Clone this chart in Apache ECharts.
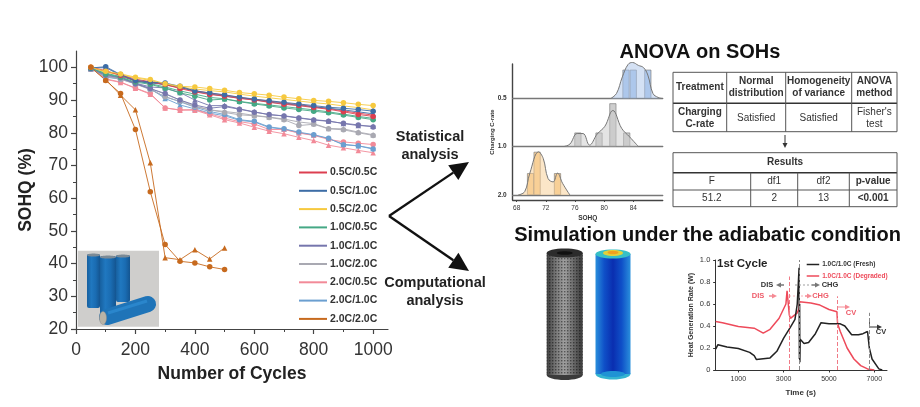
<!DOCTYPE html>
<html>
<head>
<meta charset="utf-8">
<style>html,body{margin:0;padding:0;background:#fff}#chart{width:920px;height:407px}</style>
<script src="https://cdn.jsdelivr.net/npm/echarts@6/dist/echarts.min.js"></script>
</head>
<body>
<div id="chart"></div>
<script>
var FONT = '"Liberation Sans", Arial, sans-serif';

// main SOHQ plot
var cycles = [50,100,150,200,250,300,350,400,450,500,550,600,650,700,750,800,850,900,950,1000];
var conditions = ['0.5C/0.5C','0.5C/1.0C','0.5C/2.0C','1.0C/0.5C','1.0C/1.0C','1.0C/2.0C','2.0C/0.5C','2.0C/1.0C','2.0C/2.0C'];
var colors = ['#dc3f50','#3d6da6','#f6c93f','#45a885','#7676ad','#a9a9b2','#f28a98','#6b9fd0','#c76a1e'];
var s05_05a = [100,99,97.5,96,95.5,94.8,93.5,92.5,91.7,91.2,90.5,90,89.3,88.7,88.3,87.7,87.2,86.4,85.6,85];
var s05_05b = [100,98.7,97.8,96.4,95.6,94.6,93.8,92.9,92.1,91.5,90.8,90.2,89.7,89.1,88.6,88,87.4,86.7,86,85.4];
var s05_10a = [99.8,100.2,97.8,96,95.5,95.2,94.2,92.8,92.2,91.6,90.9,90.3,89.8,89.3,88.8,88.3,87.8,87.5,87.1,86.6];
var s05_10b = [99.8,99.9,97.6,95.8,95.2,94.8,93.9,92.6,91.9,91.2,90.6,90.1,89.4,88.9,88.4,87.9,87.5,87,86.4,85.8];
var s05_20a = [100,98.8,98,97,96.3,95,94.2,94,93.5,93,92.3,91.9,91.5,90.9,90.4,89.9,89.6,89.2,88.7,88.3];
var s05_20b = [100,98.5,97.7,96.8,96,94.9,94,93.4,92.9,92.5,91.8,91.2,90.7,90.2,89.7,89.2,88.8,88.2,87.7,87];
var s10_05a = [99.7,98,97,95.5,94.8,93.6,92.2,91.2,90,90.3,89.5,88.8,88.2,87.6,87.1,86.6,86.1,85.4,84.7,84];
var s10_05b = [99.8,98.2,97.2,95.9,95,94,92.8,91.8,90.8,90.4,89.6,89,88.5,88,87.5,87,86.4,85.7,85,84.4];
var s10_10a = [99.6,97.6,96.8,95,93.5,92,90,88.5,87.5,88,87.2,86.3,85.6,85.1,84.5,83.9,83.5,82.9,82.4,81.8];
var s10_10b = [99.6,97.8,96.9,95.2,94,93.7,92.3,90,88.3,88.3,87.3,86.4,85.5,85.2,84.6,84,83.6,82.8,82.2,82];
var s10_20a = [99.6,97.2,96.4,94.9,93.2,91,89.6,88,87,86.2,85.5,85.2,84.7,84,82.2,82.6,81.2,80.9,80,79.2];
var s10_20b = [99.5,97.4,96.6,95,93.5,91.8,90,88.2,87,86.5,86,85.3,84.8,84.2,83.3,82.8,81.3,81.2,80.2,79.4];
var s20_05a = [99.8,96.5,95.5,93.7,92,87.6,87,87.1,85.8,84.5,83.4,82.7,81,81,79.9,79.2,78,77.2,76.8,76.4];
var s20_05b = [99.9,96.3,95.4,93.6,91.8,87.6,86.9,86.9,85.5,84,83,81.7,80.5,79.7,78.6,77.6,76.2,75.4,74.6,73.9];
var s20_10a = [99.7,97,96.4,95,93.3,91,89.5,87.8,86.5,85.6,84,83.5,81.8,81.2,80.2,79.4,78.3,76.3,76,75];
var s20_10b = [99.7,97.2,96.6,95.1,93.5,90.5,88.5,87.3,86,85.2,83.8,83.3,81.6,81.1,80,79.3,78.2,76.5,76,75.2];
var s20_20a = [100,96,92,81,62,45.8,40.7,40.2,39,38.2];
var s20_20b = [100,96.3,91.5,87,70.8,41.8,41.2,44.2,41.4,44.8];
var groupA = [s05_05a,s05_10a,s05_20a,s10_05a,s10_10a,s10_20a,s20_05a,s20_10a,s20_20a];
var groupB = [s05_05b,s05_10b,s05_20b,s10_05b,s10_10b,s10_20b,s20_05b,s20_10b,s20_20b];
// drawn back to front
var drawOrder = [6,7,5,4,3,0,1,2,8];
var xTicks = [0,200,400,600,800,1000];
var xMinor = [100,300,500,700,900];
var yTicks = [20,30,40,50,60,70,80,90,100];
var yMinor = [25,35,45,55,65,75,85,95];

// ridge plot
var ridgeNames = ['0.5','1.0','2.0'];
var ridgeColors = ['#a9c4ea','#c9c9c9','#f8cd92'];
var ridgeCurveX = [
  [80.9,81.7,82.5,83.3,83.9,84.7,85.4,86,86.7,87.4,87.95],
  [74.5,75.3,76.3,77.1,78,79.05,80.1,81.2,82.4,83.5,84.7],
  [68.2,69.1,69.8,71,71.65,72.3,73,73.6,74.3,75.3]
];
var ridgeCurveY = [
  [0,0.14,0.6,0.95,1,0.92,0.86,0.65,0.14,0.03,0],
  [0,0.05,0.27,0.27,0.03,0.26,0.42,0.75,0.38,0.2,0],
  [0,0.07,0.45,0.89,0.75,0.34,0.27,0.45,0.24,0]
];
var ridgeBarX = [
  [83,84,86],
  [76.4,79.3,81.2,83.1],
  [69.9,70.8,73.6]
];
var ridgeBarY = [
  [0.8,0.8,0.8],
  [0.29,0.29,0.9,0.29],
  [0.45,0.89,0.45]
];
var ridgeTicks = [68,72,76,80,84];

// heat generation, 1st cycle
var heatNames = ['1.0C/1.0C (Fresh)','1.0C/1.0C (Degraded)'];
var freshT = [0,100,500,1000,1500,1700,1800,2000,2400,2700,3000,3300,3500,3600,3650,3680,3695,3705,3715,3730,3800,3900,4100,4400,4650,5000,5500,5700,6000,6300,6500,6700,6780,6900,7200,7350];
var freshQ = [0.19,0.23,0.21,0.195,0.16,0.13,0.095,0.1,0.11,0.17,0.29,0.39,0.46,0.6,0.8,0.93,0.1,0.6,0.07,0.28,0.28,0.24,0.25,0.33,0.43,0.42,0.42,0.4,0.32,0.32,0.33,0.35,0.2,0.1,0.01,0];
var degradedT = [0,300,1000,1700,1800,2100,2400,2800,3100,3150,3200,3250,3300,3600,3680,3700,4200,4600,5000,5350,5380,5500,5800,6100,6400,6700,7000];
var degradedQ = [0.44,0.43,0.395,0.38,0.37,0.335,0.37,0.47,0.6,0.72,0.72,0.5,0.47,0.52,0.56,0.62,0.61,0.59,0.55,0.53,0.42,0.35,0.2,0.1,0.04,0.01,0];
var heatTicks = [1000,3000,5000,7000];
var redDash = [[3250,0.85],[5370,0.67]];
var blackDash = [[3690,1],[6780,0.52]];

// tables
var table1Head = ['Treatment','Normal\ndistribution','Homogeneity\nof variance','ANOVA\nmethod'];
var table1Row = ['Charging\nC-rate','Satisfied','Satisfied',"Fisher's\ntest"];
var table2Title = 'Results';
var table2Head = ['F','df1','df2','p-value'];
var table2Row = ['51.2','2','13','<0.001'];

function zip(xs, ys) {
  return ys.map(function (y, i) { return [xs[i], y]; });
}

function plain(v) { return String(v); }

function textEl(str, x, y, size, bold, color, align, rotation) {
  var el = {
    type: 'text',
    style: {
      text: str, x: 0, y: 0, fill: color || '#333',
      font: (bold ? 'bold ' : '') + size + 'px ' + FONT,
      textAlign: align || 'center', textVerticalAlign: 'middle', lineHeight: size * 1.22
    },
    x: x, y: y
  };
  if (rotation) el.rotation = rotation;
  return el;
}

function lineEl(x1, y1, x2, y2, color, width, dash) {
  return {
    type: 'line', shape: { x1: x1, y1: y1, x2: x2, y2: y2 },
    style: { stroke: color, lineWidth: width, lineDash: dash || null }
  };
}

function arrowEl(x1, y1, x2, y2, color, width, len, half) {
  var a = Math.atan2(y2 - y1, x2 - x1);
  var bx = x2 - len * Math.cos(a), by = y2 - len * Math.sin(a);
  return [
    lineEl(x1, y1, bx, by, color, width),
    { type: 'polygon', shape: { points: [
      [x2, y2],
      [bx - half * Math.sin(a), by + half * Math.cos(a)],
      [bx + half * Math.sin(a), by - half * Math.cos(a)]
    ] }, style: { fill: color } }
  ];
}

function hGrad(stops) {
  return new echarts.graphic.LinearGradient(0, 0, 1, 0, stops.map(function (c, i) {
    return { offset: i / (stops.length - 1), color: c };
  }));
}

function tableEls() {
  var els = [], c = '#555';
  var L = 673, R = 897, v1 = [726.7, 785.7, 851.7], v2 = [750.7, 797.7, 849.3];
  [72.3, 103.3, 131.7].forEach(function (y, i) { els.push(lineEl(L, y, R, y, i === 1 ? '#333' : c, i === 1 ? 1.4 : 1)); });
  [L].concat(v1, R).forEach(function (x) { els.push(lineEl(x, 72.3, x, 131.7, c, 1)); });
  var cols1 = [L].concat(v1, R);
  table1Head.forEach(function (t, i) {
    els.push(textEl(t, (cols1[i] + cols1[i + 1]) / 2, 87.5, 10, true));
    els.push(textEl(table1Row[i], (cols1[i] + cols1[i + 1]) / 2, 118, 10, i === 0));
  });
  [152.7, 172.7, 190, 206.7].forEach(function (y, i) { els.push(lineEl(L, y, R, y, i === 1 ? '#333' : c, i === 1 ? 1.4 : 1)); });
  els.push(lineEl(L, 152.7, L, 206.7, c, 1), lineEl(R, 152.7, R, 206.7, c, 1));
  v2.forEach(function (x) { els.push(lineEl(x, 172.7, x, 206.7, c, 1)); });
  els.push(textEl(table2Title, 785, 162.5, 10, true));
  var cols2 = [L].concat(v2, R);
  table2Head.forEach(function (t, i) {
    els.push(textEl(t, (cols2[i] + cols2[i + 1]) / 2, 181.5, 10, i === 3));
    els.push(textEl(table2Row[i], (cols2[i] + cols2[i + 1]) / 2, 198.5, 10, i === 3));
  });
  return els.concat(arrowEl(785, 135, 785, 148, '#333', 1, 5, 2.5));
}

function photoEls() {
  var blue = hGrad(['#17609f', '#2078c0', '#1a6cb2', '#145591']);
  var els = [{ type: 'rect', shape: { x: 78, y: 250.7, width: 81, height: 76 }, style: { fill: '#cfcecc' } }];
  [[87, 254, 13, 54], [116, 255, 14, 47], [100, 256, 16, 64]].forEach(function (b) {
    els.push({ type: 'rect', shape: { x: b[0], y: b[1], width: b[2], height: b[3], r: 2 }, style: { fill: blue } });
    els.push({ type: 'ellipse', shape: { cx: b[0] + b[2] / 2, cy: b[1] + 1, rx: b[2] / 2, ry: 1.6 }, style: { fill: '#7c8a95' } });
  });
  els.push({ type: 'line', shape: { x1: 107, y1: 317, x2: 148, y2: 304 }, style: { stroke: '#1f74b8', lineWidth: 16, lineCap: 'round' } });
  els.push({ type: 'line', shape: { x1: 108, y1: 313, x2: 147, y2: 301 }, style: { stroke: '#2a86cc', lineWidth: 3 } });
  els.push({ type: 'ellipse', shape: { cx: 103, cy: 318, rx: 3.5, ry: 6.5 }, style: { fill: '#b9b3a6', stroke: '#888', lineWidth: 0.5 } });
  return els;
}

function cylinderEls() {
  var meshCanvas = document.createElement('canvas');
  meshCanvas.width = 3; meshCanvas.height = 3;
  var ctx = meshCanvas.getContext('2d');
  ctx.fillStyle = 'rgba(0,0,0,0.45)';
  ctx.fillRect(0, 0, 1.4, 1.4);
  var els = [
    { type: 'ellipse', shape: { cx: 564.7, cy: 375, rx: 18, ry: 5 }, style: { fill: '#3b3b3b' } },
    { type: 'rect', shape: { x: 546.7, y: 253, width: 36, height: 122 }, style: { fill: hGrad(['#3f3f3f', '#777', '#a0a0a0', '#6a6a6a', '#3a3a3a']) } },
    { type: 'rect', shape: { x: 546.7, y: 253, width: 36, height: 122 }, style: { fill: { image: meshCanvas, repeat: 'repeat' } } },
    { type: 'ellipse', shape: { cx: 564.7, cy: 253, rx: 18, ry: 4.5 }, style: { fill: '#2c2c2c' } },
    { type: 'ellipse', shape: { cx: 564.7, cy: 253, rx: 8, ry: 1.8 }, style: { fill: '#111' } },

    { type: 'ellipse', shape: { cx: 613, cy: 374, rx: 17.5, ry: 5.5 }, style: { fill: '#35b4d0' } },
    { type: 'rect', shape: { x: 595.5, y: 254, width: 35, height: 120 }, style: { fill: hGrad(['#2a8fdc', '#0f50c8', '#0a2eb0', '#0f50c8', '#2a8fdc']) } },
    { type: 'ellipse', shape: { cx: 613, cy: 374, rx: 12, ry: 3 }, style: { fill: '#1f93d4' } },
    { type: 'ellipse', shape: { cx: 613, cy: 254, rx: 17.5, ry: 4.5 }, style: { fill: '#37c0c6' } },
    { type: 'ellipse', shape: { cx: 613, cy: 253, rx: 10, ry: 3 }, style: { fill: '#e2d23a' } },
    { type: 'ellipse', shape: { cx: 613, cy: 252.5, rx: 5.5, ry: 1.8 }, style: { fill: '#f0a020' } }
  ];
  return els;
}

function heatNotes() {
  var k = '#333', r = '#ee5a68';
  var els = [
    textEl('1st Cycle', 717, 264, 11.5, true, '#222', 'left'),
    textEl('DIS', 767, 285, 7.5, true, k),
    textEl('CHG', 830, 285, 7.5, true, k),
    textEl('DIS', 758, 296, 7.5, true, r),
    textEl('CHG', 820.5, 296, 7.5, true, r),
    textEl('CV', 851, 312.5, 7.5, true, r),
    textEl('CV', 881, 332, 7.5, true, k),
    lineEl(795, 285, 812, 285, '#888', 0.8, [2, 2]),
    lineEl(789, 296, 805, 296, '#f5a0a8', 0.8, [2, 2]),
    lineEl(869.5, 322, 869.5, 327, k, 0.8)
  ];
  return els.concat(
    arrowEl(784, 285, 776, 285, '#777', 1.5, 5, 2.5),
    arrowEl(812, 285, 820, 285, '#777', 1.5, 5, 2.5),
    arrowEl(769, 296, 777, 296, '#f58a94', 1.5, 5, 2.5),
    arrowEl(805, 296, 812, 296, '#f58a94', 1.5, 5, 2.5),
    arrowEl(838, 307, 850, 307, '#f58a94', 1, 5, 2.5),
    arrowEl(869.5, 327, 882, 327, k, 1, 5, 2.5)
  );
}

// all the text and pictures that sit around the three small plots
var graphics = [].concat(
  photoEls(),
  cylinderEls(),
  tableEls(),
  heatNotes(),
  arrowEl(389, 216, 469, 162, '#111', 2.4, 19, 9),
  arrowEl(389, 216, 469, 271, '#111', 2.4, 19, 9),
  [
    textEl('Statistical\nanalysis', 430, 146, 14.5, true, '#222'),
    textEl('Computational\nanalysis', 435, 292, 14.5, true, '#222'),
    textEl('ANOVA on SOHs', 700, 52, 20, true, '#111'),
    textEl('Simulation under the adiabatic condition', 707.5, 235, 20, true, '#111')
  ]
);

var mainSeries = [];
function addMain(group, symbol, suffix, z) {
  drawOrder.forEach(function (i) {
    mainSeries.push({
      name: conditions[i] + suffix,
      type: 'line', xAxisIndex: 0, yAxisIndex: 0,
      data: zip(cycles, group[i]),
      symbol: symbol, symbolSize: 5.5,
      lineStyle: { color: colors[i], width: 0.9 },
      itemStyle: { color: colors[i] },
      z: z
    });
  });
}
addMain(groupB, 'triangle', ' B', 3);
addMain(groupA, 'circle', '', 4);

var ridgeSeries = [];
ridgeNames.forEach(function (n, i) {
  ridgeSeries.push({
    name: 'density ' + n, type: 'line', xAxisIndex: 2 + i, yAxisIndex: 2 + i,
    data: zip(ridgeCurveX[i], ridgeCurveY[i]), smooth: 0.4, symbol: 'none',
    lineStyle: { color: '#777', width: 1 },
    areaStyle: { color: ridgeColors[i], opacity: 0.5 }, z: 3
  });
  ridgeSeries.push({
    name: 'hist ' + n, type: 'bar', xAxisIndex: 2 + i, yAxisIndex: 2 + i,
    data: zip(ridgeBarX[i], ridgeBarY[i]), barWidth: 7,
    itemStyle: { color: ridgeColors[i], opacity: 0.9, borderColor: '#777', borderWidth: 0.7 }, z: 2
  });
});

function dashSegments(list) {
  return list.map(function (d) { return [{ coord: [d[0], 0] }, { coord: [d[0], d[1]] }]; });
}

var heatSeries = [
  {
    name: heatNames[1], type: 'line', xAxisIndex: 6, yAxisIndex: 6,
    data: zip(degradedT, degradedQ), symbol: 'none',
    lineStyle: { color: '#ee4a5a', width: 1.5 }, itemStyle: { color: '#ee4a5a' }, z: 3,
    markLine: {
      silent: true, symbol: 'none', label: { show: false },
      lineStyle: { color: '#f07a86', type: 'dashed', width: 1 },
      data: dashSegments(redDash)
    }
  },
  {
    name: heatNames[0], type: 'line', xAxisIndex: 6, yAxisIndex: 6,
    data: zip(freshT, freshQ), symbol: 'none',
    lineStyle: { color: '#222', width: 1.5 }, itemStyle: { color: '#222' }, z: 4,
    markLine: {
      silent: true, symbol: 'none', label: { show: false },
      lineStyle: { color: '#888', type: 'dashed', width: 1 },
      data: dashSegments(blackDash)
    }
  }
];

function ridgeXAxis(grid) {
  return {
    type: 'value', gridIndex: grid, min: 67.45, max: 88.04,
    axisLine: { onZero: false, lineStyle: { color: '#777', width: 1.4 } },
    axisTick: { show: false }, axisLabel: { show: false }, splitLine: { show: false }
  };
}
function ridgeYAxis(grid, label) {
  return {
    type: 'value', gridIndex: grid, min: 0, max: 1,
    axisLine: { show: false }, axisTick: { show: false }, splitLine: { show: false },
    axisLabel: {
      customValues: [0], margin: 6, fontSize: 6.5, fontWeight: 'bold', color: '#333', fontFamily: FONT,
      formatter: function () { return label; }
    }
  };
}

var option = {
  animation: false,
  backgroundColor: '#fff',
  textStyle: { fontFamily: FONT },
  graphic: { elements: graphics },
  legend: [
    {
      data: conditions, orient: 'vertical', left: 299, top: 167, padding: 0,
      itemWidth: 28, itemHeight: 2, itemGap: 7.3, icon: 'rect', selectedMode: false,
      textStyle: { fontSize: 10.5, fontWeight: 'bold', color: '#333', fontFamily: FONT, padding: [0, 0, 0, -2] }
    },
    {
      data: [
        { name: heatNames[0], textStyle: { color: '#333' } },
        { name: heatNames[1], textStyle: { color: '#ee4a5a' } }
      ],
      orient: 'vertical', left: 806.7, top: 261, padding: 0,
      itemWidth: 12.5, itemHeight: 1.5, itemGap: 4.5, icon: 'rect', selectedMode: false,
      textStyle: { fontSize: 6.5, fontWeight: 'bold', fontFamily: FONT, padding: [0, 0, 0, -2] }
    }
  ],
  grid: [
    { left: 76, top: 51, width: 312, height: 278 },
    { left: 512.7, top: 62.5, width: 150, height: 36 },
    { left: 512.7, top: 98.5, width: 150, height: 48 },
    { left: 512.7, top: 146.5, width: 150, height: 48.5 },
    { left: 512.7, top: 64, width: 150, height: 136 },
    { left: 714.3, top: 260, width: 172.7, height: 110 }
  ],
  xAxis: [
    {
      type: 'value', gridIndex: 0, min: 0, max: 1050,
      name: 'Number of Cycles', nameLocation: 'middle', nameGap: 36,
      nameTextStyle: { fontSize: 17.5, fontWeight: 'bold', color: '#222', fontFamily: FONT },
      axisLine: { lineStyle: { color: '#444', width: 1.2 } },
      axisTick: { customValues: xTicks, length: 5, lineStyle: { color: '#444', width: 1.2 } },
      axisLabel: { customValues: xTicks, fontSize: 17.5, margin: 12, color: '#333', fontFamily: FONT, formatter: plain },
      splitLine: { show: false }
    },
    {
      type: 'value', gridIndex: 0, min: 0, max: 1050, position: 'bottom',
      axisLine: { show: false }, axisLabel: { show: false }, splitLine: { show: false },
      axisTick: { customValues: xMinor, length: 3, lineStyle: { color: '#444', width: 1 } }
    },
    ridgeXAxis(1), ridgeXAxis(2), ridgeXAxis(3),
    {
      type: 'value', gridIndex: 4, min: 67.45, max: 88.04,
      name: 'SOHQ', nameLocation: 'middle', nameGap: 15,
      nameTextStyle: { fontSize: 6.5, fontWeight: 'bold', color: '#333', fontFamily: FONT },
      axisLine: { lineStyle: { color: '#444', width: 1.4 } },
      axisTick: { customValues: ridgeTicks, length: 2, lineStyle: { color: '#444' } },
      axisLabel: { customValues: ridgeTicks, fontSize: 6.5, margin: 5, color: '#333', fontFamily: FONT, formatter: plain },
      splitLine: { show: false }
    },
    {
      type: 'value', gridIndex: 5, min: -60, max: 7560,
      name: 'Time (s)', nameLocation: 'middle', nameGap: 19,
      nameTextStyle: { fontSize: 8, fontWeight: 'bold', color: '#333', fontFamily: FONT },
      axisLine: { lineStyle: { color: '#333', width: 1 } },
      axisTick: { customValues: heatTicks, length: 2.5, lineStyle: { color: '#333' } },
      axisLabel: { customValues: heatTicks, fontSize: 7, margin: 6, color: '#333', fontFamily: FONT, formatter: plain },
      splitLine: { show: false }
    }
  ],
  yAxis: [
    {
      type: 'value', gridIndex: 0, min: 20, max: 105,
      name: 'SOHQ (%)', nameLocation: 'middle', nameGap: 41,
      nameTextStyle: { fontSize: 17.5, fontWeight: 'bold', color: '#222', fontFamily: FONT },
      axisLine: { lineStyle: { color: '#444', width: 1.2 } },
      axisTick: { customValues: yTicks, length: 5, lineStyle: { color: '#444', width: 1.2 } },
      axisLabel: { customValues: yTicks, fontSize: 17.5, margin: 8, color: '#333', fontFamily: FONT },
      splitLine: { show: false }
    },
    {
      type: 'value', gridIndex: 0, min: 20, max: 105, position: 'left',
      axisLine: { show: false }, axisLabel: { show: false }, splitLine: { show: false },
      axisTick: { customValues: yMinor, length: 3, lineStyle: { color: '#444', width: 1 } }
    },
    ridgeYAxis(1, ridgeNames[0]), ridgeYAxis(2, ridgeNames[1]), ridgeYAxis(3, ridgeNames[2]),
    {
      type: 'value', gridIndex: 4, min: 0, max: 1,
      name: 'Charging C-rate', nameLocation: 'middle', nameGap: 17,
      nameTextStyle: { fontSize: 6, fontWeight: 'bold', color: '#333', fontFamily: FONT },
      axisLine: { lineStyle: { color: '#444', width: 1.4 } },
      axisTick: { show: false }, axisLabel: { show: false }, splitLine: { show: false }
    },
    {
      type: 'value', gridIndex: 5, min: 0, max: 1, interval: 0.2,
      name: 'Heat Generation Rate (W)', nameLocation: 'middle', nameGap: 20,
      nameTextStyle: { fontSize: 7, fontWeight: 'bold', color: '#333', fontFamily: FONT },
      axisLine: { lineStyle: { color: '#333', width: 1 } },
      axisTick: { length: 2.5, lineStyle: { color: '#333' } },
      axisLabel: {
        fontSize: 7.5, margin: 4, color: '#333', fontFamily: FONT,
        formatter: function (v) { return v === 0 ? '0' : v.toFixed(1); }
      },
      splitLine: { show: false }
    }
  ],
  series: mainSeries.concat(ridgeSeries, heatSeries)
};

var chart = echarts.init(document.getElementById('chart'), null, { renderer: 'canvas' });
chart.setOption(option);
</script>
</body>
</html>
